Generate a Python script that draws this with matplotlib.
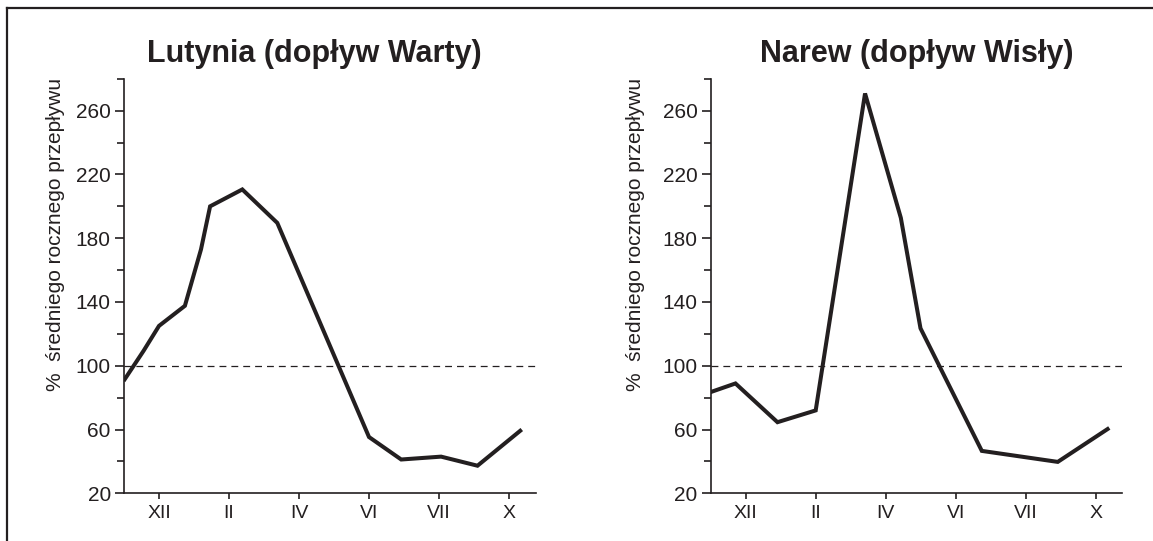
import matplotlib
matplotlib.use("Agg")
import matplotlib.pyplot as plt
from matplotlib.lines import Line2D

plt.rcParams['font.family'] = ['Liberation Sans', 'DejaVu Sans']

ink = '#231f20'

# months shown on the x axis (evenly spaced)
month_labels = ['XII', 'II', 'IV', 'VI', 'VII', 'X']
month_pos = [0, 1, 2, 3, 4, 5]

# Lutynia (dopływ Warty)
lut_x = [-0.49, -0.22, 0.0, 0.37, 0.6, 0.73, 1.19, 1.69, 3.0, 3.46, 4.03, 4.55, 5.16]
lut_y = [91.5, 109.4, 125, 137.6, 173, 200, 210.6, 189.6, 55.3, 41.2, 43, 37.3, 59.2]

# Narew (dopływ Wisły)
nar_x = [-0.5, -0.146, 0.454, 1.0, 1.705, 2.216, 2.497, 3.373, 4.458, 5.17]
nar_y = [83.5, 88.9, 64.6, 72, 270.8, 192.8, 123.5, 46.6, 39.7, 60.3]

major_y = [20, 60, 100, 140, 180, 220, 260]
minor_y = [40, 80, 120, 160, 200, 240, 280]

W, H = 1153, 541
fig = plt.figure(figsize=(W / 100, H / 100), dpi=100)

panels = [
    (124, 'Lutynia (dopływ Warty)', 0.4616, 55.6, lut_x, lut_y),
    (710.7, 'Narew (dopływ Wisły)', 0.5, 635.2, nar_x, nar_y),
]

for left_px, title, title_x, lab_px, xs, ys in panels:
    ax = fig.add_axes([left_px / W, 1 - 493.3 / H, 411.6 / W, 414.5 / H])
    ax.plot(xs, ys, color=ink, lw=2.9, solid_joinstyle='miter', zorder=3)
    ax.axhline(100, color=ink, lw=0.9, ls=(0, (5.5, 4.0)), zorder=2)
    ax.set_xlim(-0.5, 5.38)
    ax.set_ylim(20, 280)
    ax.set_xticks(month_pos)
    ax.set_xticklabels(month_labels)
    ax.set_yticks(major_y)
    ax.set_yticks(minor_y, minor=True)
    for s in ['top', 'right']:
        ax.spines[s].set_visible(False)
    for s in ['left', 'bottom']:
        ax.spines[s].set_linewidth(1.2)
        ax.spines[s].set_color(ink)
    ax.tick_params(axis='y', which='major', length=6.5, width=1.2, color=ink,
                   labelsize=15, labelcolor=ink, pad=3)
    ax.tick_params(axis='y', which='minor', length=5, width=1.2, color=ink)
    ax.tick_params(axis='x', length=4.3, width=1.2, color=ink,
                   labelsize=14, labelcolor=ink, pad=4)
    ax.set_title(title, x=title_x, y=1.0, pad=12, fontsize=22,
                 fontweight='bold', color=ink)
    fig.text(lab_px / W, 1 - 78 / H, '%  średniego rocznego przepływu',
             rotation=90, ha='center', va='top', fontsize=15, color=ink)

# frame lines at top and left
fig.add_artist(Line2D([7 / W, 1], [1 - 8 / H, 1 - 8 / H], color=ink, lw=1.6,
                      transform=fig.transFigure))
fig.add_artist(Line2D([7 / W, 7 / W], [0, 1 - 8 / H], color=ink, lw=1.6,
                      transform=fig.transFigure))

fig.savefig('out.png', dpi=100)
